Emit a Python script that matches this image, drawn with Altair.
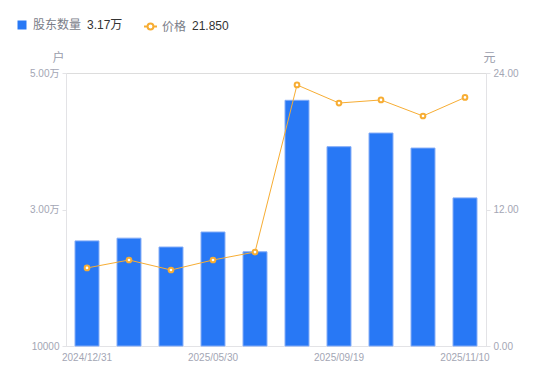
import altair as alt
import pandas as pd

dates = ["2024/12/31", "2025/02/28", "2025/03/31", "2025/05/30", "2025/06/30",
         "2025/08/29", "2025/09/19", "2025/09/30", "2025/10/20", "2025/11/10"]
holders = [25400, 25800, 24500, 26700, 23800, 46000, 39200, 41200, 39000, 31700]
prices = [6.86, 7.56, 6.68, 7.56, 8.26, 22.95, 21.36, 21.63, 20.22, 21.85]
shown_labels = ["2024/12/31", "2025/05/30", "2025/09/19", "2025/11/10"]

df = pd.DataFrame({"date": dates, "holders": holders, "price": prices,
                   "s1": "股东数量", "s2": "价格"})

FONT = "Liberation Sans, Arial, Noto Sans CJK SC"
LABEL = "#a3a6b4"
DOMAIN = "#e3e3e6"
BLUE = "#2878f5"
ORANGE = "#f7ad33"
AXFS = 10

x = alt.X("date:N", sort=dates, title=None,
          scale=alt.Scale(paddingInner=0.43, paddingOuter=0.215),
          axis=alt.Axis(values=shown_labels, labelAngle=0, ticks=False,
                        labelColor=LABEL, labelFontSize=AXFS, labelPadding=6,
                        domainColor=DOMAIN, labelFont=FONT))

bars = alt.Chart(df).mark_bar(stroke="#80aaf7", strokeWidth=1).encode(
    x=x,
    y=alt.Y("holders:Q",
            scale=alt.Scale(domain=[10000, 50000], zero=False, nice=False),
            axis=alt.Axis(values=[10000, 30000, 50000], grid=False,
                          labelExpr="datum.value == 10000 ? '10000' : format(datum.value/10000, '.2f') + '万'",
                          title="户", titleAngle=0, titleX=-8, titleY=-16,
                          titleAlign="center", titleBaseline="middle",
                          titleColor="#9a9dab", titleFontWeight="normal", titleFontSize=12,
                          labelColor=LABEL, labelFontSize=AXFS, tickSize=4,
                          tickColor=DOMAIN, domainColor=DOMAIN, labelPadding=3,
                          labelFont=FONT, titleFont=FONT)),
    y2=alt.datum(10000),
    fill=alt.Fill("s1:N", scale=alt.Scale(domain=["股东数量"], range=[BLUE]),
                  legend=alt.Legend(orient="none", legendX=-50, legendY=-54,
                                    title="3.17万", titleOrient="right",
                                    titleFontWeight="normal", titleColor="#333333",
                                    titleFontSize=12, titlePadding=6, titleFont=FONT,
                                    labelColor="#7a7d88", labelFontSize=12, labelFont=FONT,
                                    symbolType="square", symbolSize=81,
                                    symbolStrokeWidth=0, labelOffset=5, padding=0)),
)

price_axis = alt.Axis(values=[0, 12, 24], grid=False, format=".2f", orient="right",
                      title="元", titleAngle=0, titleX=3, titleY=-16,
                      titleAlign="center", titleBaseline="middle",
                      titleColor="#9a9dab", titleFontWeight="normal", titleFontSize=12,
                      labelColor=LABEL, labelFontSize=AXFS, tickSize=4,
                      tickColor=DOMAIN, domainColor=DOMAIN, labelPadding=3,
                      labelFont=FONT, titleFont=FONT)
yp = alt.Y("price:Q", scale=alt.Scale(domain=[0, 24], nice=False), axis=price_axis)

line = alt.Chart(df).mark_line(strokeWidth=1).encode(
    x=x, y=yp,
    stroke=alt.Stroke("s2:N", scale=alt.Scale(domain=["价格"], range=[ORANGE]),
                      legend=alt.Legend(orient="none", legendX=77, legendY=-54,
                                        title="21.850", titleOrient="right",
                                        titleFontWeight="normal", titleColor="#333333",
                                        titleFontSize=12, titlePadding=6, titleFont=FONT,
                                        labelColor="#7a7d88", labelFontSize=12, labelFont=FONT,
                                        symbolType="M-1,0L-0.45,0M0.45,0L1,0M0.45,0A0.45,0.45 0 1,1 -0.45,0A0.45,0.45 0 1,1 0.45,0Z",
                                        symbolSize=169, symbolStrokeWidth=2,
                                        symbolFillColor="white", labelOffset=4, padding=0)),
)
pts = alt.Chart(df).mark_point(filled=True, fill="white", stroke=ORANGE,
                               strokeWidth=2, size=22, opacity=1).encode(x=x, y=yp)

right = alt.layer(line, pts)

chart = alt.layer(bars, right).resolve_scale(y="independent", fill="independent", stroke="independent").properties(
    width=420, height=273,
    autosize=alt.AutoSizeParams(type="none"),
    padding={"left": 58, "top": 65, "right": 56, "bottom": 25},
).configure_view(stroke=None).configure(font=FONT)

chart.save("out.html", embed_options={"renderer": "svg", "actions": False})
